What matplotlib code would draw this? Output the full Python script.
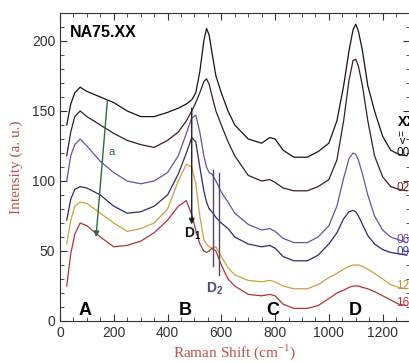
import numpy as np
import matplotlib
matplotlib.use("Agg")
import matplotlib.pyplot as plt
from matplotlib.ticker import MultipleLocator

plt.rcParams['font.family'] = ['Liberation Sans', 'DejaVu Sans']
plt.rcParams['mathtext.fontset'] = 'custom'
plt.rcParams['mathtext.rm'] = 'Liberation Sans'
plt.rcParams['mathtext.bf'] = 'Liberation Sans:bold'

# Raman shift grid (cm-1)
shift = [25, 40, 55, 75, 100, 150, 200, 250, 300, 350, 400, 440, 470, 490, 505,
         520, 535, 545, 555, 565, 580, 600, 625, 650, 700, 750, 780, 800, 830,
         870, 920, 960, 1000, 1030, 1055, 1075, 1090, 1100, 1110, 1125, 1145,
         1170, 1200, 1230, 1260, 1290]

# intensities, one list per sample
na00 = [140, 155, 163, 167, 164, 160, 156, 150, 146, 146, 149, 152, 155, 158, 163,
        178, 200, 209, 204, 192, 175, 163, 150, 140, 130, 127, 131, 130, 122,
        117, 117, 121, 127, 143, 168, 193, 208, 212, 207, 193, 168,
        150, 132, 122, 119, 118]
na02 = [118, 135, 146, 150, 146, 140, 134, 129, 126, 124, 129, 135, 143, 150, 156,
        163, 171, 173, 169, 161, 150, 140, 128, 118, 104, 100, 101, 99, 95,
        93, 93, 96, 101, 115, 143, 172, 186, 187, 182, 168, 143,
        118, 103, 96, 94, 93]
na06 = [100, 118, 126, 130, 125, 114, 106, 100, 98, 100, 106, 118, 134, 145, 147,
        135, 118, 110, 106, 105, 100, 92, 85, 77, 69, 65, 66, 64, 59,
        56, 56, 60, 68, 82, 102, 116, 120, 119, 115, 105, 90,
        75, 65, 60, 58, 56]
na09 = [72, 87, 94, 96, 95, 90, 82, 77, 78, 82, 90, 105, 120, 131, 128,
        110, 93, 85, 80, 78, 74, 70, 66, 60, 55, 53, 54, 52, 46,
        43, 43, 47, 55, 63, 73, 78, 79, 78, 75, 69, 61,
        55, 51, 49, 48, 47]
na12 = [55, 72, 82, 85, 84, 77, 70, 64, 66, 70, 80, 100, 112, 110, 98,
        75, 58, 55, 53, 52, 53, 46, 38, 33, 29, 28, 29, 28, 25,
        23, 23, 26, 31, 34, 37, 39, 40, 40, 40, 39, 37,
        34, 30, 26, 24, 23]
na16 = [25, 48, 62, 70, 68, 60, 53, 54, 57, 63, 72, 82, 86, 76, 65,
        55, 50, 49, 50, 52, 50, 40, 30, 25, 19, 18, 19, 18, 12,
        9, 9, 11, 16, 20, 22, 24, 25, 25, 25, 24, 23,
        21, 18, 15, 12, 11]

series = [na00, na02, na06, na09, na12, na16]
names = ['00', '02', '06', '09', '12', '16']
line_colors = ['#151515', '#3b2020', '#6a50a8', '#2c2c72', '#cfa040', '#b23434']
label_colors = ['#151515', '#7a2424', '#6a44b8', '#4040a8', '#c99030', '#c23030']

band_names = ['A', 'B', 'C', 'D']
band_pos = [95, 465, 790, 1100]

fig = plt.figure(figsize=(4.09, 3.62), dpi=100)
ax = fig.add_axes([60 / 409, 41 / 362, 349.5 / 409, 308 / 362])

for y, c in zip(series, line_colors):
    ax.plot(shift, y, color=c, lw=0.9)

for y, n, c in zip(series, names, label_colors):
    ax.text(1250, y[-1] + 2, n, color=c, fontsize=8.5, ha='left', va='center')

ax.text(1256, 142, 'XX', fontsize=10, fontweight='bold', ha='left', va='center')
ax.text(1275, 134.5, '=', fontsize=7.5, rotation=90, ha='center', va='center')
ax.text(1275, 128.5, 'v', fontsize=7.5, ha='center', va='center')

ax.text(38, 206, 'NA75.XX', fontsize=11.5, fontweight='bold', ha='left', va='center')

for n, xp in zip(band_names, band_pos):
    ax.text(xp, 7.5, n, fontsize=13, fontweight='bold', ha='center', va='center')

# green arrow a
ax.annotate('', xy=(134, 60), xytext=(176, 157),
            arrowprops=dict(arrowstyle='-|>', color='#2f6b3c', lw=1.0,
                            mutation_scale=8, shrinkA=0, shrinkB=0))
ax.text(180, 121, 'a', color='#2f6b3c', fontsize=8, ha='left', va='center')

# D1 arrow
ax.annotate('', xy=(490, 69), xytext=(490, 152),
            arrowprops=dict(arrowstyle='-|>', color='#202020', lw=1.0,
                            mutation_scale=8, shrinkA=0, shrinkB=0))
ax.text(492, 62, r'D$_{\mathregular{1}}$', fontsize=10, fontweight='bold',
        ha='center', va='center', color='#151515')

# D2 lines
ax.plot([568, 568], [108, 39], color='#4a4a6e', lw=1.0)
ax.plot([591, 591], [106, 33], color='#4a4a6e', lw=1.0)
ax.text(574, 23, r'D$_{\mathregular{2}}$', fontsize=10, fontweight='bold',
        ha='center', va='center', color='#4a4a90')

ax.set_xlim(0, 1300)
ax.set_ylim(0, 220)
ax.xaxis.set_major_locator(MultipleLocator(200))
ax.xaxis.set_minor_locator(MultipleLocator(50))
ax.yaxis.set_major_locator(MultipleLocator(50))
ax.yaxis.set_minor_locator(MultipleLocator(10))
ax.tick_params(which='both', direction='in', top=True, right=True,
               labelsize=10, labelcolor='#333333', color='#333333')
ax.tick_params(which='major', length=5)
ax.tick_params(which='minor', length=3)
for s in ax.spines.values():
    s.set_color('#333333')

ax.set_xlabel(r'Raman Shift (cm$^{\mathregular{-1}}$)', family='Liberation Serif',
              fontsize=11, color='#c0504d', labelpad=2)
ax.set_ylabel('Intensity (a. u.)', family='Liberation Serif',
              fontsize=11, color='#c0504d')
ax.yaxis.set_label_coords(-0.106, 0.5)

fig.savefig('out.png', dpi=100)
